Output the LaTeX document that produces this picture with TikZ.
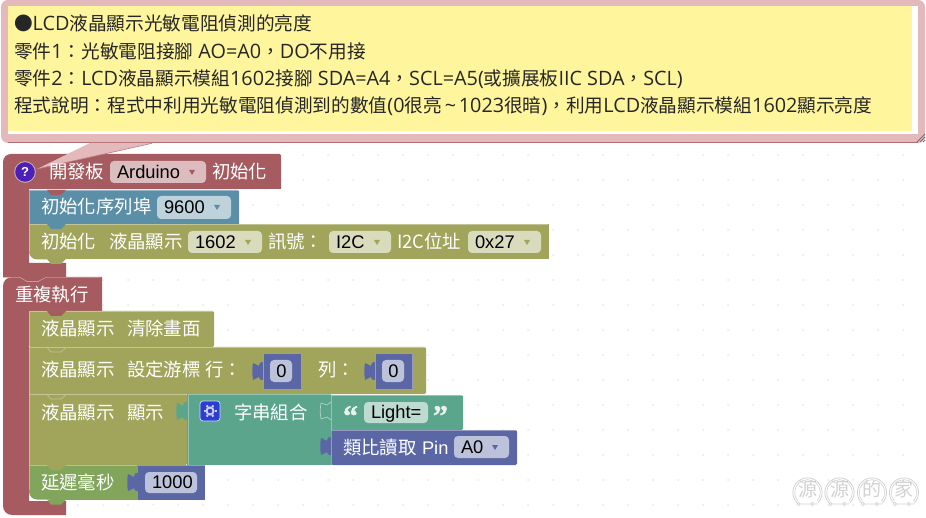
\documentclass[tikz,border=0pt]{standalone}
\usepackage{fontspec}
\setmainfont{Liberation Sans}
\newfontfamily\cjkf{Noto Sans CJK TC}
\newfontfamily\nl{Open Sans}
\newfontfamily\qf[BoldFeatures={FakeBold=1.5}]{Liberation Serif}
\definecolor{hatc}{HTML}{A55B60}
\definecolor{hatf}{HTML}{DBBDBF}
\definecolor{serc}{HTML}{5B8FA8}
\definecolor{serf}{HTML}{BDD2DB}
\definecolor{lcdc}{HTML}{A0A55B}
\definecolor{lcdf}{HTML}{D9DBBD}
\definecolor{delc}{HTML}{80A55B}
\definecolor{tealc}{HTML}{5BA58C}
\definecolor{tealf}{HTML}{BDDBD1}
\definecolor{indc}{HTML}{5B67A5}
\definecolor{indf}{HTML}{BDC2DB}
\definecolor{pinkc}{HTML}{E4B9BB}
\definecolor{yelc}{HTML}{FFF59D}
\definecolor{dotc}{HTML}{E8E8E8}
\definecolor{wmc}{HTML}{D2D2D2}
\definecolor{gearc}{HTML}{2A3FD0}
\definecolor{helpc}{HTML}{4A20B8}
\newcounter{tn}
\newcommand{\La}[1]{{\nl\fontsize{19.8}{22}\selectfont #1}}
\tikzset{
  lab/.style={anchor=base west,inner sep=0pt,outer sep=0pt,text=white},
  fieldtxt/.style={anchor=base west,inner sep=0pt,outer sep=0pt,text=black},
  note/.style={anchor=base west,inner sep=0pt,outer sep=0pt,text=black!85,font=\cjkf\fontsize{18.67}{22}\selectfont}
}
\newcommand{\cjl}[3]{\stepcounter{tn}\node[lab,font=\cjkf\fontsize{18.4}{20}\selectfont] (t\thetn) at (#1,#2) {#3};}
\newcommand{\lal}[3]{\stepcounter{tn}\node[lab,font=\fontsize{18.3}{20}\selectfont] (t\thetn) at (#1,#2) {#3};}
\newcommand{\fld}[6]{\fill[#5,rounded corners=4] (#1,#2) rectangle (#3,#4);
  \stepcounter{tn}\node[fieldtxt,font=\fontsize{18.3}{20}\selectfont] (t\thetn) at ({#1+7},{(#2+#4)/2+6.3}) {#6};}
\newcommand{\drp}[3]{\fill[#3] ({#1-3},{#2-2}) -- ({#1+3},{#2-2}) -- (#1,{#2+3}) -- cycle;}
\newcommand{\blk}[5]{\fill[#5,rounded corners=1.5] (#1,#2) rectangle (#3,#4);
  \draw[#5!65!white,line width=0.7pt] (#1,{#4-0.5}) -- (#1,{#2+0.4}) -- ({#3-1},{#2+0.4});}
\newcommand{\tabd}[3]{\fill[#3] ({#1+18},#2) -- ({#1+22},{#2+5}) -- ({#1+32},{#2+5}) -- ({#1+37},#2) -- cycle;}
\newcommand{\tabl}[3]{\fill[#3] (#1,{#2-9}) .. controls ({#1-3},{#2-9}) and ({#1-3},{#2-9}) .. ({#1-4},{#2-5}) -- ({#1-10},{#2-8}) .. controls ({#1-11},{#2-3}) and ({#1-11},{#2+3}) .. ({#1-10},{#2+9}) -- ({#1-4},{#2+6}) .. controls ({#1-3},{#2+9}) and ({#1-3},{#2+9}) .. (#1,{#2+9}) -- cycle;}
\newcommand{\valb}[9]{\tabl{#1}{#9}{indc}\fill[indc] (#1,#2) rectangle (#3,#4);
  \draw[indc!65!white,line width=0.7pt] (#1,#4) -- (#1,#2) -- (#3,#2) -- (#3,#4) -- cycle;
  \fld{#5}{#6}{#7}{#8}{indf}{\hspace{0pt}}}
\newcommand{\coin}[2]{\fill[white] (#1,492.5) circle (14.8);
  \draw[wmc,line width=0.8pt] (#1,492.5) circle (14.6);
  \draw[wmc,line width=0.6pt] (#1,492.5) circle (12.8);
  \stepcounter{tn}\node[inner sep=0pt,text=wmc,font=\cjkf\fontsize{19}{20}\selectfont] (t\thetn) at (#1,489.5) {#2};
  \fill[white] ({#1-10},501) rectangle ({#1+10},507.5);
  \draw[wmc,line width=0.6pt] ({#1-9},504) circle (1.8) -- ({#1+5},504) circle (1.8) ({#1+7},504) -- ({#1+10},504);}
\begin{document}
\begin{tikzpicture}[x=1pt,y=-1pt]
\useasboundingbox (0,0) rectangle (926,518);
\fill[white] (0,0) rectangle (926,518);
% grid
\foreach \gy in {155,180,...,505}{\foreach \gx in {28,53,...,903}{\fill[dotc] (\gx,\gy) circle (1);}}
% comment
\fill[pinkc,rounded corners=7] (1,0) rectangle (925,143);
\draw[hatc!80!pinkc,line width=1pt] (8,142.5) -- (918,142.5);
\fill[white] (8,6) rectangle (918,134);
\fill[yelc] (8,6) rectangle (912,131);
\foreach \d in {0,3,6}{\draw[black!55,line width=0.8pt] ({917+\d},142) -- (925,{134+\d});}
\node[note] (note1) at (14,31) {●\La{LCD}液晶顯示光敏電阻偵測的亮度};
\node[note] (note2) at (14,59) {零件\La{1}：光敏電阻接腳\La{ AO=A0}，\La{DO}不用接};
\node[note] (note3) at (14,86) {零件\La{2}：\La{LCD}液晶顯示模組\La{1602}接腳\La{ SDA=A4}，\La{SCL=A5(}或擴展板\La{IIC SDA}，\La{SCL)}};
\node[note] (note4) at (14,113) {程式說明：程式中利用光敏電阻偵測到的數值\La{(0}很亮\makebox[17pt]{\La{\char`\~}}\La{1023}很暗\La{)}，利用\La{LCD}液晶顯示模組\La{1602}顯示亮度};
% hat block
\fill[hatc] (281,155) -- (281,189) -- (29,189) -- (29,263) -- (66,263) -- (66,277) -- (3,277) [rounded corners=8] -- (3,154) [rounded corners=1.5] -- (281,154) -- cycle;
% repeat block
\fill[hatc] (102,277) -- (102,311) -- (29,311) -- (29,501) -- (66,501) -- (66,515) [rounded corners=9] -- (3,515) -- (3,277) [sharp corners] -- (102,277) -- cycle;
\draw[hatc!60!white,line width=0.7pt] (3,277.4) -- (20,277.4) -- (27,281.5) -- (38,281.5) -- (46,277.4) -- (101,277.4);
% tail
\fill[pinkc] (90,143) -- (37,169) -- (152,143) -- cycle;
\draw[hatc!60!pinkc,line width=0.7pt] (37,169) -- (152,143.3);
% help icon
\fill[hatc!50!white] (25,172) circle (10.8);
\fill[helpc] (25,172) circle (9.8);
\node[inner sep=0pt,text=white,font=\bfseries\fontsize{13}{14}\selectfont] (help) at (25,172) {?};
\cjl{49}{179}{開發板}
\fld{110}{161}{206}{183}{hatf}{Arduino}
\drp{192}{172}{hatc}
\cjl{212}{179}{初始化}
% serial block
\blk{29}{190}{239}{225}{serc}
\tabd{29}{190}{hatc}
\cjl{41}{214}{初始化序列埠}
\fld{157}{196}{231}{219}{serf}{9600}
\drp{217}{207}{serc}
% lcd init
\fill[lcdc] (29,224) rectangle (549,245);
\fill[lcdc,rounded corners=8] (29,235) -- (29,259.5) -- (60,259.5) -- (60,235) -- cycle;
\fill[lcdc] (50,240) rectangle (549,259.5);
\draw[lcdc!65!white,line width=0.7pt] (29,252) -- (29,224.5) -- (548,224.5);
\tabd{29}{224}{serc}
\tabd{29}{259}{lcdc}
\cjl{41}{249}{初始化}
\cjl{109}{249}{液晶顯示}
\fld{188}{231}{262}{253}{lcdf}{1602}
\drp{248}{242}{lcdc}
\cjl{268}{249}{訊號：}
\fld{329}{231}{391}{253}{lcdf}{I2C}
\drp{377}{242}{lcdc}
\cjl{397}{249}{I2C位址}
\fld{468}{231}{541}{253}{lcdf}{0x27}
\drp{527}{242}{lcdc}
\cjl{15}{302}{重複執行}
% clear
\blk{29}{311}{214}{347}{lcdc}
\tabd{29}{311}{hatc}
\cjl{41}{336}{液晶顯示}
\cjl{127}{336}{清除畫面}
% cursor
\blk{29}{347}{426}{394}{lcdc}
\draw[lcdc!65!white,line width=0.7pt] (47,347.5) -- (51,352) -- (61,352) -- (66,347.5);
\cjl{41}{377}{液晶顯示}
\cjl{127}{377}{設定游標}
\cjl{205}{377}{行：}
\valb{263}{353}{301}{389}{270}{360}{292}{382}{371}
\node[fieldtxt,font=\fontsize{18.3}{20}\selectfont] (zero1) at (281,377.3) {\makebox[0pt]{0}};
\cjl{318}{377}{列：}
\valb{375}{353}{412}{389}{382}{360}{404}{382}{371}
\node[fieldtxt,font=\fontsize{18.3}{20}\selectfont] (zero2) at (393,377.3) {\makebox[0pt]{0}};
% display
\blk{29}{394}{187}{465}{lcdc}
\draw[lcdc!65!white,line width=0.7pt] (47,394.5) -- (51,399) -- (61,399) -- (66,394.5);
\cjl{41}{419}{液晶顯示}
\cjl{127}{419}{顯示}
% string join
\fill[tealc] (187,394) rectangle (331,465);
\draw[tealc!65!white,line width=0.7pt] (188,465) -- (188,394.5) -- (331,394.5);
\tabl{187}{411}{tealc}
\fill[gearc,rounded corners=3] (200,401) rectangle (220,421);
\draw[blue!15!white,line width=0.7pt,rounded corners=3] (200,401) rectangle (220,421);
\draw[white!80!blue,line width=2pt] (210,411) circle (3.5);
\foreach \a in {0,60,...,300}{\draw[white!80!blue,line width=2pt] ({210+4.5*cos(\a)},{411+4.5*sin(\a)}) -- ({210+6.5*cos(\a)},{411+6.5*sin(\a)});}
\cjl{234}{419}{字串組合}
% text block
\draw[tealc!50!white,line width=0.7pt] (331,402) -- (327,405) -- (321,403) .. controls (320,408) and (320,414) .. (321,419) -- (327,417) -- (331,420);
\blk{331}{395}{463}{430}{tealc}
\node[lab,text=tealc!15!white,font=\qf\bfseries\fontsize{30}{30}\selectfont] (qopen) at (343,426) {“};
\fld{364}{402}{428}{423}{tealf}{Light=}
\node[lab,text=tealc!15!white,font=\qf\bfseries\fontsize{30}{30}\selectfont] (qclose) at (433,426) {”};
% pin block
\tabl{331}{446}{indc}
\blk{331}{430}{517}{465}{indc}
\cjl{343}{454}{類比讀取}
\lal{422}{454}{Pin}
\fld{454}{436}{509}{458}{indf}{A0}
\drp{495}{447}{indc}
% delay
\fill[delc] (29,465) rectangle (138,485);
\fill[delc,rounded corners=8] (29,475) -- (29,499.5) -- (60,499.5) -- (60,475) -- cycle;
\fill[delc] (50,480) rectangle (138,499.5);
\draw[delc!65!white,line width=0.7pt] (29,490) -- (29,465.5) -- (137,465.5);
\tabd{29}{465}{lcdc}
\tabd{29}{499.5}{delc}
\cjl{41}{489}{延遲毫秒}
\tabl{138}{482}{indc}
\fill[indc] (138,465) rectangle (205,500);
\draw[indc!65!white,line width=0.7pt] (138,465.4) -- (205,465.4);
\fld{145}{472}{197}{493}{indf}{1000}
% watermark
\coin{807.5}{源}
\coin{839.5}{源}
\coin{872}{的}
\coin{904}{家}
\end{tikzpicture}
\end{document}
